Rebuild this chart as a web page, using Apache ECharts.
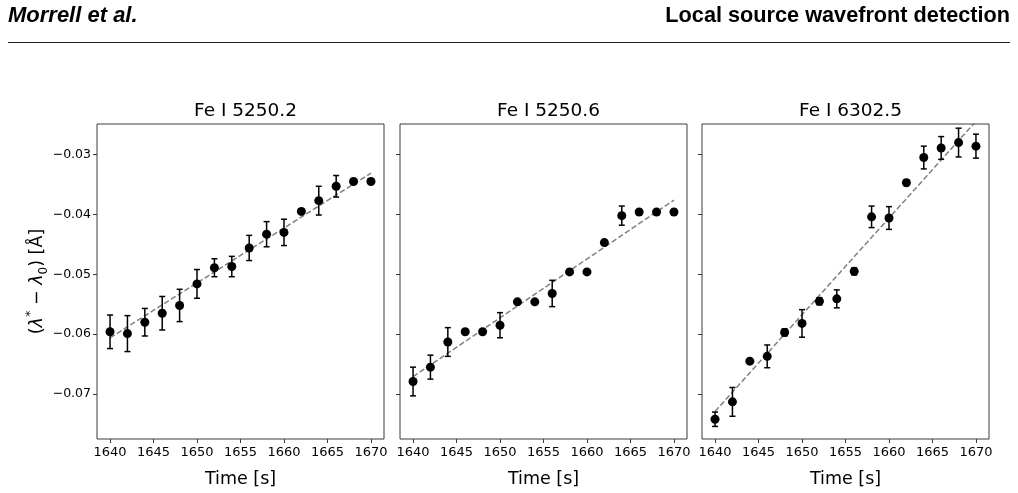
<!DOCTYPE html>
<html>
<head>
<meta charset="utf-8">
<script src="https://cdn.jsdelivr.net/npm/echarts@6/dist/echarts.min.js"></script>
<style>
  html, body { margin: 0; padding: 0; background: #fff; }
  #main { width: 1018px; height: 493px; }
</style>
</head>
<body>
<div id="main"></div>
<script>
// time samples (s)
var times = [1640, 1642, 1644, 1646, 1648, 1650, 1652, 1654, 1656, 1658, 1660, 1662, 1664, 1666, 1668, 1670];

var titles = ['Fe I 5250.2', 'Fe I 5250.6', 'Fe I 6302.5'];

// wavelength offsets (Angstrom) and their errors, one pair per line
var fe52502 = [-0.0596, -0.0599, -0.0580, -0.0565, -0.0552, -0.0516, -0.0489, -0.0487,
               -0.0456, -0.0433, -0.0430, -0.0395, -0.0377, -0.0353, -0.0345, -0.0345];
var fe52502Err = [0.0028, 0.0030, 0.0023, 0.0028, 0.0027, 0.0024, 0.0015, 0.0017,
                  0.0021, 0.0021, 0.0022, 0, 0.0024, 0.0018, 0, 0];

var fe52506 = [-0.0679, -0.0655, -0.0613, -0.0596, -0.0596, -0.0585, -0.0546, -0.0546,
               -0.0532, -0.0496, -0.0496, -0.0447, -0.0402, -0.0396, -0.0396, -0.0396];
var fe52506Err = [0.0024, 0.0020, 0.0024, 0, 0, 0.0021, 0, 0,
                  0.0022, 0, 0, 0, 0.0016, 0, 0, 0];

var fe63025 = [-0.0742, -0.0713, -0.0645, -0.0637, -0.0597, -0.0582, -0.0545, -0.0541,
               -0.0495, -0.0404, -0.0406, -0.0347, -0.0305, -0.0289, -0.0280, -0.0286];
var fe63025Err = [0.0012, 0.0024, 0, 0.0019, 0.0006, 0.0023, 0.0006, 0.0015,
                  0.0006, 0.0018, 0.0019, 0.0005, 0.0019, 0.0019, 0.0024, 0.0020];

// linear fits: value at first and last time
var fit52502 = [-0.0606, -0.0331];
var fit52506 = [-0.0671, -0.0376];
var fit63025 = [-0.0729, -0.02445];

var xTicks = [1640, 1645, 1650, 1655, 1660, 1665, 1670];
var yTicks = [-0.07, -0.06, -0.05, -0.04, -0.03];

var panels = [
  { vals: fe52502, errs: fe52502Err, fit: fit52502 },
  { vals: fe52506, errs: fe52506Err, fit: fit52506 },
  { vals: fe63025, errs: fe63025Err, fit: fit63025 }
];

var lefts = [97, 400, 702];
var panelW = 287;
var plotTop = 124;
var panelH = 323;
var frameColor = '#3a3a3a';
var font = 'DejaVu Sans';

var chart = echarts.init(document.getElementById('main'));

function fmtY(v) {
  return (v < 0 ? '\u2212' : '') + Math.abs(v).toFixed(2);
}

var grids = [], xAxes = [], yAxes = [], series = [], titleOpts = [];

panels.forEach(function(p, i) {
  grids.push({ left: lefts[i], top: plotTop, width: panelW, height: panelH,
    show: true, borderColor: frameColor, borderWidth: 1, backgroundColor: 'transparent' });

  xAxes.push({
    type: 'value', gridIndex: i, min: 1638.5, max: 1671.5,
    name: 'Time [s]', nameLocation: 'middle', nameGap: 31,
    nameTextStyle: { fontFamily: font, fontSize: 17.5, color: '#000' },
    axisLine: { show: false },
    splitLine: { show: false },
    axisTick: { show: true, inside: false, length: 4, customValues: xTicks,
      lineStyle: { color: frameColor, width: 1 } },
    axisLabel: { customValues: xTicks, formatter: function(v) { return String(v); },
      fontFamily: font, fontSize: 13, color: '#000', margin: 7 }
  });

  yAxes.push({
    type: 'value', gridIndex: i, min: -0.0775, max: -0.0249,
    axisLine: { show: false },
    splitLine: { show: false },
    axisTick: { show: true, inside: false, length: 4, customValues: yTicks,
      lineStyle: { color: frameColor, width: 1 } },
    axisLabel: { show: i === 0, customValues: yTicks, formatter: fmtY,
      fontFamily: font, fontSize: 12.5, color: '#000', margin: 6 }
  });

  titleOpts.push({
    text: titles[i], left: lefts[i] + panelW / 2, top: plotTop - 27, textAlign: 'center',
    textStyle: { fontFamily: font, fontSize: 18.5, fontWeight: 'normal', color: '#000' }
  });

  var errData = times.map(function(t, k) { return [t, p.vals[k], p.errs[k]]; });
  var ptData = times.map(function(t, k) { return [t, p.vals[k]]; });

  series.push({
    type: 'line', xAxisIndex: i, yAxisIndex: i, clip: true,
    data: [[times[0], p.fit[0]], [times[times.length - 1], p.fit[1]]],
    showSymbol: false, symbol: 'none', silent: true, z: 2,
    lineStyle: { color: '#808080', width: 1.5, type: [5.5, 2.5] }
  });

  series.push({
    type: 'custom', xAxisIndex: i, yAxisIndex: i, z: 3,
    encode: { x: 0, y: 1 },
    data: errData,
    renderItem: function(params, api) {
      var e = api.value(2);
      if (!e) return null;
      var x = api.value(0), y = api.value(1);
      var lo = api.coord([x, y - e]);
      var hi = api.coord([x, y + e]);
      var style = { stroke: '#000', lineWidth: 1.5 };
      return {
        type: 'group',
        children: [
          { type: 'line', shape: { x1: lo[0], y1: lo[1], x2: hi[0], y2: hi[1] }, style: style },
          { type: 'line', shape: { x1: lo[0] - 3, y1: lo[1], x2: lo[0] + 3, y2: lo[1] }, style: style },
          { type: 'line', shape: { x1: hi[0] - 3, y1: hi[1], x2: hi[0] + 3, y2: hi[1] }, style: style }
        ]
      };
    }
  });

  series.push({
    type: 'scatter', xAxisIndex: i, yAxisIndex: i, z: 4,
    data: ptData, symbol: 'circle', symbolSize: 9,
    itemStyle: { color: '#000', opacity: 1 }
  });
});

var option = {
  animation: false,
  backgroundColor: '#fff',
  title: titleOpts,
  grid: grids,
  xAxis: xAxes,
  yAxis: yAxes,
  series: series,
  graphic: [
    { type: 'text', left: 8, top: 5,
      style: { text: 'Morrell et al.', fontFamily: 'Liberation Sans', fontSize: 22,
        fontWeight: 'bold', fontStyle: 'italic', fill: '#000' } },
    { type: 'text', right: 8, top: 5,
      style: { text: 'Local source wavefront detection', fontFamily: 'Liberation Sans', fontSize: 21.7,
        fontWeight: 'bold', fill: '#000' } },
    { type: 'line', shape: { x1: 8, y1: 42.5, x2: 1010, y2: 42.5 },
      style: { stroke: '#222', lineWidth: 1.2 } },
    { type: 'text', x: 37, y: plotTop + panelH / 2 - 4, rotation: Math.PI / 2,
      style: {
        text: '(' + '{i|λ}' + '{sup|*}' + ' − ' + '{i|λ}' + '{sub|0}' + ') [Å]',
        align: 'center', verticalAlign: 'middle',
        fontFamily: font, fontSize: 17.5, fill: '#000',
        rich: {
          i: { fontFamily: font, fontSize: 17.5, fontStyle: 'italic', lineHeight: 26, verticalAlign: 'middle' },
          sup: { fontFamily: font, fontSize: 13, lineHeight: 26, verticalAlign: 'top' },
          sub: { fontFamily: font, fontSize: 12, lineHeight: 26, verticalAlign: 'bottom' }
        }
      } }
  ]
};

chart.setOption(option);
</script>
</body>
</html>
